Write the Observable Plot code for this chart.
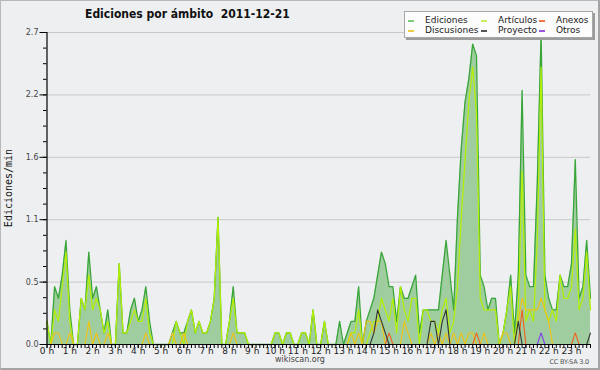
<!DOCTYPE html>
<html><head><meta charset="utf-8">
<script src="https://cdn.jsdelivr.net/npm/d3@7"></script>
<script src="https://cdn.jsdelivr.net/npm/@observablehq/plot@0.6"></script>
<style>
html,body{margin:0;padding:0;background:#eeeff1;}
#wrap{position:relative;width:600px;height:370px;background:#eeeff1;overflow:hidden;font-family:"DejaVu Sans",sans-serif;}
#chart{position:absolute;left:0;top:0;}
#frame{position:absolute;left:0;top:0;width:600px;height:370px;box-sizing:border-box;border:1px solid #b8b8b8;border-right:2px solid #a4a4a4;border-bottom:2px solid #a4a4a4;pointer-events:none;}
.t{position:absolute;white-space:pre;line-height:1;}
#title{left:85px;top:8px;font-family:"DejaVu Sans Condensed","DejaVu Sans",sans-serif;font-stretch:condensed;font-weight:bold;font-size:12px;color:#111;}
#ylabel{left:9px;top:188px;transform:translate(-50%,-50%) rotate(-90deg);font-family:"DejaVu Sans Mono",monospace;font-size:10px;color:#111;line-height:10px;}
#legend{position:absolute;left:404px;top:11px;width:189px;height:27px;box-sizing:border-box;background:#fcfcfc;border:1px solid #a8a8a8;box-shadow:2px 2px 0 #9c9c9c;}
.lt{position:absolute;white-space:pre;font-size:9px;line-height:9px;color:#222;}
.sw{position:absolute;width:6px;height:1.5px;}
#site{left:0;width:600px;text-align:center;top:356px;font-size:8px;color:#444;}
#lic{right:11px;top:359px;font-size:6.5px;letter-spacing:-0.2px;color:#555;}
</style></head><body>
<div id="wrap">
  <div id="chart"></div>
  <div id="title" class="t">Ediciones por ámbito  2011-12-21</div>
  <div id="ylabel" class="t">Ediciones/min</div>
  <div id="legend"></div>
  <div id="site" class="t">wikiscan.org</div>
  <div id="lic" class="t">CC BY-SA 3.0</div>
  <div id="frame"></div>
</div>
<script>
// 10-minute buckets of 2011-12-21 (minutes after midnight)
const minutes = d3.range(0, 1440, 10);

const ediciones = [
0.2,0.0,0.5,0.4,0.6,0.9,0.3,0.0,0.0,0.4,
0.3,0.8,0.4,0.5,0.3,0.1,0.3,0.0,0.0,0.7,
0.1,0.1,0.3,0.4,0.2,0.3,0.5,0.2,0.0,0.0,
0.0,0.0,0.0,0.1,0.2,0.1,0.1,0.2,0.3,0.1,
0.2,0.1,0.1,0.2,0.4,1.1,0.0,0.0,0.2,0.5,
0.1,0.1,0.1,0.0,0.0,0.0,0.0,0.0,0.0,0.0,
0.1,0.1,0.0,0.1,0.1,0.0,0.0,0.1,0.1,0.0,
0.3,0.0,0.0,0.2,0.0,0.0,0.0,0.2,0.0,0.1,
0.2,0.2,0.5,0.0,0.2,0.3,0.4,0.6,0.8,0.7,
0.5,0.5,0.2,0.5,0.4,0.4,0.5,0.6,0.1,0.3,
0.3,0.3,0.3,0.3,0.6,0.9,0.6,0.3,1.1,1.7,
2.1,2.3,2.6,2.5,0.6,0.5,0.3,0.4,0.4,0.0,
0.1,0.3,0.6,0.1,0.6,2.2,0.6,0.5,0.5,1.4,
2.7,0.6,0.4,0.3,0.3,0.6,0.5,0.5,0.7,1.6,
0.4,0.5,0.9,0.4];

const articulos = [
0.2,0.0,0.3,0.2,0.5,0.8,0.2,0.0,0.0,0.4,
0.3,0.6,0.3,0.4,0.3,0.1,0.2,0.0,0.0,0.7,
0.1,0.1,0.2,0.3,0.2,0.2,0.4,0.1,0.0,0.0,
0.0,0.0,0.0,0.0,0.2,0.1,0.0,0.2,0.3,0.1,
0.2,0.1,0.1,0.2,0.4,1.1,0.0,0.0,0.2,0.4,
0.1,0.1,0.1,0.0,0.0,0.0,0.0,0.0,0.0,0.0,
0.1,0.1,0.0,0.1,0.1,0.0,0.0,0.1,0.1,0.0,
0.3,0.0,0.0,0.2,0.0,0.0,0.0,0.0,0.0,0.0,
0.1,0.1,0.3,0.0,0.0,0.1,0.2,0.2,0.4,0.3,
0.2,0.4,0.1,0.5,0.3,0.2,0.4,0.4,0.0,0.3,
0.3,0.2,0.2,0.1,0.3,0.4,0.1,0.2,0.5,1.1,
1.6,2.1,2.4,2.0,0.4,0.3,0.3,0.3,0.3,0.0,
0.1,0.3,0.5,0.0,0.3,1.5,0.2,0.3,0.2,0.9,
2.4,0.3,0.2,0.3,0.2,0.6,0.4,0.4,0.5,1.0,
0.3,0.4,0.8,0.3];

const discusiones = [
0,0,0.1,0.1,0,0,0.1,0,0,0,
0,0.2,0,0.1,0,0,0.1,0,0,0,
0,0,0,0,0,0,0.1,0,0,0,
0,0,0,0.1,0,0,0.1,0,0,0,
0,0,0,0,0,0,0,0,0,0.1,
0,0,0,0,0,0,0,0,0,0,
0,0,0,0,0,0,0,0,0,0,
0,0,0,0,0,0,0,0,0,0,
0.1,0,0.1,0,0.2,0.2,0.1,0.2,0.2,0,
0,0,0,0,0.2,0.1,0,0,0,0,
0,0.1,0,0.1,0,0.1,0,0.1,0,0.1,
0,0.1,0.1,0,0,0.1,0,0,0,0,
0.1,0.1,0,0,0.2,0.4,0.3,0.3,0.3,0.3,
0.4,0.3,0.2,0,0,0,0,0,0,0,
0,0,0,0];

const anexos = [
0,0,0,0,0,0,0,0,0,0,
0,0,0,0,0,0,0,0,0,0,
0,0,0,0,0,0,0,0,0,0,
0,0,0,0,0,0,0,0,0,0,
0,0,0,0,0,0,0,0,0,0,
0,0,0,0,0,0,0,0,0,0,
0,0,0,0,0,0,0,0,0,0,
0,0,0,0,0,0,0,0,0,0,
0,0,0,0,0,0,0,0,0,0,
0.1,0,0,0,0,0,0,0,0,0,
0,0,0,0,0,0,0,0,0,0,
0,0,0,0.1,0,0,0,0,0,0,
0,0,0,0,0,0.3,0,0,0,0,
0,0,0,0,0,0,0,0,0,0.1,
0,0,0,0];

const proyecto = [
0,0,0,0,0,0,0,0,0,0,
0,0,0,0,0,0,0,0,0,0,
0,0,0,0,0,0,0,0,0,0,
0,0,0,0,0,0,0,0,0,0,
0,0,0,0,0,0,0,0,0,0,
0,0,0,0,0,0,0,0,0,0,
0,0,0,0,0,0,0,0,0,0,
0,0,0,0,0,0,0,0,0,0,
0,0,0,0,0,0,0.1,0.3,0.2,0.1,
0,0,0,0,0,0,0,0,0,0,
0,0.2,0.2,0,0.2,0.3,0,0,0,0,
0,0,0,0,0,0,0,0,0,0,
0,0,0,0,0.2,0,0,0,0,0,
0,0,0,0,0,0,0,0,0,0,
0,0,0,0.1];

const otros = [
0,0,0,0,0,0,0,0,0,0,
0,0,0,0,0,0,0,0,0,0,
0,0,0,0,0,0,0,0,0,0,
0,0,0,0,0,0,0,0,0,0,
0,0,0,0,0,0,0,0,0,0,
0,0,0,0,0,0,0,0,0,0,
0,0,0,0,0,0,0,0,0,0,
0,0,0,0,0,0,0,0,0,0,
0,0,0,0,0,0,0,0,0,0,
0,0,0,0,0,0,0,0,0,0,
0,0,0,0,0,0,0,0,0,0,
0,0,0,0,0,0,0,0,0,0,
0,0,0,0,0,0,0,0,0,0,
0.1,0,0,0,0,0,0,0,0,0,
0,0,0,0];

const seriesNames = ["Ediciones","Artículos","Anexos","Discusiones","Proyecto","Otros"];
const seriesColors = ["#3aa63a","#b4f000","#f0601e","#f2c410","#333333","#7b3ff0"];
const legendSwatch = ["#7ccc7c","#c8ee66","#ee7744","#eecc44","#555555","#9955dd"];

const hourTicks = d3.range(0, 24).map(h => h * 60);
const hourLabels = d3.range(0, 24).map(h => h + " h");
const yTicks = [0, 0.54, 1.08, 1.62, 2.16, 2.7];
const yTickLabels = ["0.0","0.5","1.1","1.6","2.2","2.7"];

const rows = minutes.map((m, i) => ({
  m,
  "Ediciones": ediciones[i],
  "Artículos": articulos[i],
  "Discusiones": discusiones[i],
  "Anexos": anexos[i],
  "Proyecto": proyecto[i],
  "Otros": otros[i]
}));

const yLab = new Map(yTicks.map((t, i) => [t, yTickLabels[i]]));
const hLab = new Map(hourTicks.map((t, i) => [t, hourLabels[i]]));
const minorY = d3.range(0, 21).map(i => i * 0.135);
const comb = d3.range(0, 1431, 10);
const col = Object.fromEntries(seriesNames.map((n, i) => [n, seriesColors[i]]));

const chart = Plot.plot({
  width: 600, height: 370,
  marginLeft: 46.5, marginRight: 10, marginTop: 32, marginBottom: 26,
  x: {domain: [0, 1430], label: null},
  y: {domain: [0, 2.7], label: null},
  style: {background: "transparent", fontFamily: "DejaVu Sans", color: "#000", overflow: "visible"},
  marks: [
    Plot.ruleY(yTicks.slice(1), {x1: 0, x2: 1430, stroke: "#c8c8c8", strokeWidth: 1}),
    Plot.areaY(rows, {x: "m", y: "Ediciones", fill: "#a0cda0", fillOpacity: 1}),
    Plot.line(rows, {x: "m", y: "Ediciones", stroke: col["Ediciones"], strokeWidth: 1.3}),
    Plot.line(rows, {x: "m", y: "Artículos", stroke: col["Artículos"], strokeWidth: 1.2}),
    Plot.line(rows, {x: "m", y: "Discusiones", stroke: col["Discusiones"], strokeWidth: 1.1}),
    Plot.line(rows, {x: "m", y: "Anexos", stroke: col["Anexos"], strokeWidth: 1.1}),
    Plot.line(rows, {x: "m", y: "Proyecto", stroke: col["Proyecto"], strokeWidth: 1.1}),
    Plot.line(rows, {x: "m", y: "Otros", stroke: col["Otros"], strokeWidth: 1.1}),
    Plot.ruleY([0], {x1: 0, x2: 1430, stroke: "#000", strokeWidth: 1.2}),
    Plot.ruleX([0], {y1: 0, y2: 2.7, stroke: "#000", strokeWidth: 1.2}),
    Plot.axisY(minorY, {tickSize: 3.5, tickFormat: () => "", label: null}),
    Plot.axisY(yTicks, {tickSize: 7, tickPadding: 1.5, tickFormat: d => yLab.get(d), fontSize: 8, fill: "#444", label: null}),
    Plot.axisX(comb, {tickSize: 4, tickFormat: () => "", label: null}),
    Plot.axisX(hourTicks, {tickSize: 4, tickPadding: -1, tickFormat: d => hLab.get(d), fontSize: 9, fill: "#222", label: null})
  ]
});
document.getElementById("chart").appendChild(chart);

// legend (3 columns x 2 rows)
const lg = document.getElementById("legend");
const colX = [[3, 20], [76, 93], [134, 151]];
const rowY = [[8, 4], [18, 13.5]];
seriesNames.forEach((n, i) => {
  const c = i % 3, r = Math.floor(i / 3);
  const sw = document.createElement("div");
  sw.className = "sw";
  sw.style.left = colX[c][0] + "px";
  sw.style.top = rowY[r][0] + "px";
  sw.style.background = legendSwatch[i];
  lg.appendChild(sw);
  const t = document.createElement("div");
  t.className = "lt";
  t.textContent = n;
  t.style.left = colX[c][1] + "px";
  t.style.top = rowY[r][1] + "px";
  lg.appendChild(t);
});
</script>
</body></html>
